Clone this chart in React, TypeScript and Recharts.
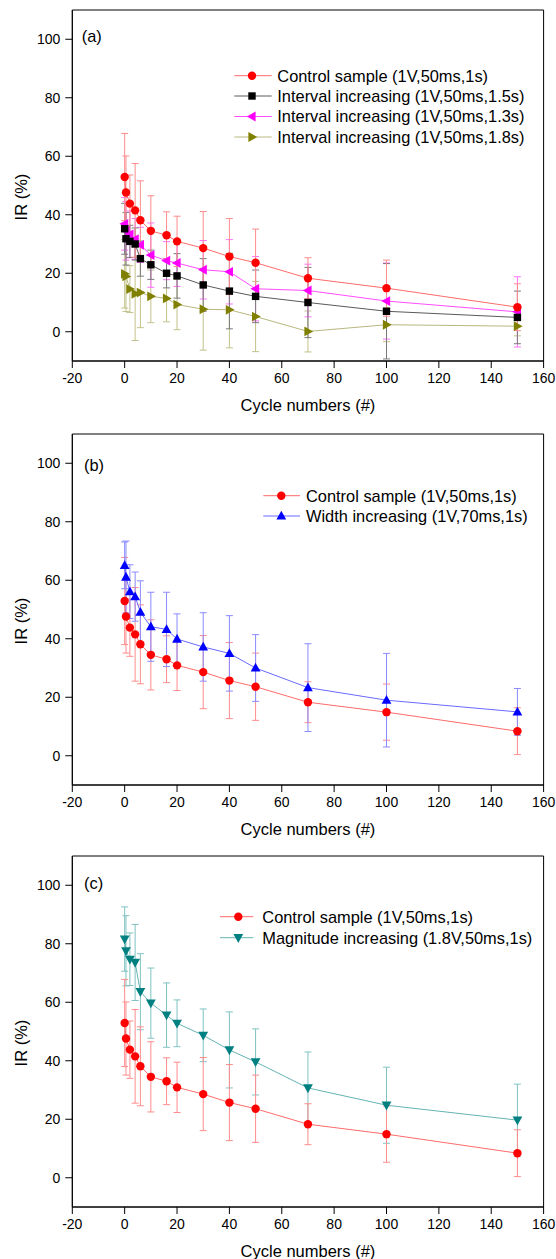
import React from 'react';
import { LineChart, Line, XAxis, YAxis, ErrorBar, ReferenceArea } from 'recharts';

// ---------- data ----------
const cycles = [0, 0.5, 2, 4, 6, 10, 16, 20, 30, 40, 50, 70, 100, 150];

const controlIR = [52.9, 47.6, 43.8, 41.5, 38.1, 34.5, 33.0, 30.9, 28.6, 25.7, 23.6, 18.3, 14.9, 8.4];
const controlErr = [14.9, 12.5, 9.8, 16.0, 13.5, 12.0, 8.0, 8.6, 12.5, 13.0, 11.5, 7.0, 9.6, 8.0];

const interval15IR = [35.2, 31.8, 30.9, 30.0, 25.0, 22.9, 20.0, 19.1, 16.0, 13.9, 12.1, 10.0, 7.0, 4.9];
const interval15Err = [8.7, 9.0, 5.5, 5.5, 6.0, 5.0, 5.0, 7.6, 9.0, 12.9, 9.0, 12.0, 16.3, 9.0];

const interval13IR = [36.9, 34.5, 33.3, 31.7, 29.7, 26.2, 24.3, 23.5, 21.2, 20.5, 14.7, 14.1, 10.5, 6.8];
const interval13Err = [9.0, 10.0, 8.0, 7.0, 6.0, 11.0, 6.5, 8.0, 10.0, 11.0, 11.0, 9.0, 13.0, 12.0];

const interval18IR = [19.8, 18.9, 14.6, 13.0, 13.4, 12.1, 11.4, 9.3, 7.7, 7.5, 5.2, 0.1, 2.4, 1.9];
const interval18Err = [11.7, 12.0, 8.0, 16.0, 12.0, 9.0, 8.0, 8.6, 14.0, 13.0, 12.0, 7.0, 5.8, 3.3];

const widthIR = [65.1, 61.1, 56.1, 54.4, 49.1, 44.1, 43.2, 39.9, 37.2, 35.0, 30.0, 23.3, 19.0, 15.0];
const widthErr = [8.0, 12.3, 9.2, 8.4, 10.7, 11.8, 12.7, 8.6, 11.7, 12.9, 11.4, 15.0, 16.0, 8.0];

const magnitudeIR = [81.6, 77.6, 74.7, 73.6, 63.6, 59.7, 55.6, 52.8, 48.7, 43.7, 39.6, 30.7, 24.8, 19.7];
const magnitudeErr = [11.0, 12.0, 9.0, 13.0, 13.0, 12.0, 11.0, 8.0, 9.0, 13.0, 11.3, 12.3, 13.0, 12.3];

const xTicks = [-20, 0, 20, 40, 60, 80, 100, 120, 140, 160];
const yTicks = [0, 20, 40, 60, 80, 100];

const xTitle = 'Cycle numbers (#)';
const yTitle = 'IR (%)';

// ---------- styles ----------
const FONT = '"Liberation Sans", Arial, Helvetica, sans-serif';

type Shape = 'circle' | 'square' | 'left' | 'right' | 'up' | 'down';

interface SeriesDef {
  key: string;
  name: string;
  values: number[];
  errs: number[];
  fill: string;
  line: string;
  err: string;
  shape: Shape;
}

const S_CONTROL: SeriesDef = { key: 'control', name: 'Control sample (1V,50ms,1s)', values: controlIR, errs: controlErr, fill: '#ff0000', line: '#ff6b6b', err: '#ff8c8c', shape: 'circle' };
const S_I15: SeriesDef = { key: 'i15', name: 'Interval increasing (1V,50ms,1.5s)', values: interval15IR, errs: interval15Err, fill: '#000000', line: '#5a5a5a', err: '#7a7a7a', shape: 'square' };
const S_I13: SeriesDef = { key: 'i13', name: 'Interval increasing (1V,50ms,1.3s)', values: interval13IR, errs: interval13Err, fill: '#ff00ff', line: '#ff4dff', err: '#ff70ff', shape: 'left' };
const S_I18: SeriesDef = { key: 'i18', name: 'Interval increasing (1V,50ms,1.8s)', values: interval18IR, errs: interval18Err, fill: '#808000', line: '#b8b880', err: '#c2c28a', shape: 'right' };
const S_WIDTH: SeriesDef = { key: 'width', name: 'Width increasing (1V,70ms,1s)', values: widthIR, errs: widthErr, fill: '#0000ff', line: '#6a6aff', err: '#8a8aff', shape: 'up' };
const S_MAG: SeriesDef = { key: 'mag', name: 'Magnitude increasing (1.8V,50ms,1s)', values: magnitudeIR, errs: magnitudeErr, fill: '#008080', line: '#66b3b3', err: '#80c2c2', shape: 'down' };

function Marker({ shape, cx, cy, fill }: { shape: Shape; cx: number; cy: number; fill: string }) {
  switch (shape) {
    case 'circle':
      return <circle cx={cx} cy={cy} r={4.2} fill={fill} />;
    case 'square':
      return <rect x={cx - 3.7} y={cy - 3.7} width={7.4} height={7.4} fill={fill} />;
    case 'up':
      return <polygon points={`${cx},${cy - 5.2} ${cx - 4.9},${cy + 3.6} ${cx + 4.9},${cy + 3.6}`} fill={fill} />;
    case 'down':
      return <polygon points={`${cx},${cy + 5.2} ${cx - 4.9},${cy - 3.6} ${cx + 4.9},${cy - 3.6}`} fill={fill} />;
    case 'left':
      return <polygon points={`${cx - 5.2},${cy} ${cx + 3.6},${cy - 4.9} ${cx + 3.6},${cy + 4.9}`} fill={fill} />;
    case 'right':
      return <polygon points={`${cx + 5.2},${cy} ${cx - 3.6},${cy - 4.9} ${cx - 3.6},${cy + 4.9}`} fill={fill} />;
  }
  return null;
}

const makeDot = (s: SeriesDef) => (props: any) => {
  const { cx, cy, index } = props;
  if (cx == null || cy == null) return <g key={`${s.key}-${index}`} />;
  return (
    <g key={`${s.key}-${index}`}>
      <Marker shape={s.shape} cx={cx} cy={cy} fill={s.fill} />
    </g>
  );
};

interface LegendDef {
  x0: number;
  x1: number;
  mx: number;
  tx: number;
  rows: number[];
}

interface PanelDef {
  top: number;
  height: number;
  label: string;
  labelX: number;
  labelY: number;
  drawOrder: SeriesDef[];
  legendOrder: SeriesDef[];
  legend: LegendDef;
}

const BOX_TOP = 10;
const BOX_H = 351;
const PLOT_LEFT = 72.3;
const PLOT_RIGHT = 543.6;

function Panel({ p }: { p: PanelDef }) {
  const data = cycles.map((x, i) => {
    const row: any = { x };
    p.drawOrder.forEach((s) => {
      row[s.key] = s.values[i];
      row[s.key + 'Err'] = s.errs[i];
    });
    return row;
  });
  const xAxisH = p.height - BOX_TOP - BOX_H;
  const tickStyle = { fill: '#000', fontSize: 14, fontFamily: FONT };
  const midX = (PLOT_LEFT + PLOT_RIGHT) / 2;
  return (
    <div style={{ position: 'absolute', left: 0, top: p.top, width: 556, height: p.height }}>
      <LineChart
        width={556}
        height={p.height}
        data={data}
        margin={{ top: BOX_TOP, right: 556 - PLOT_RIGHT, left: 0, bottom: 0 }}
      >
        <XAxis
          dataKey="x"
          type="number"
          domain={[-20, 160]}
          ticks={xTicks}
          interval={0}
          allowDataOverflow
          height={xAxisH}
          tickSize={7}
          tickMargin={5}
          stroke="#000"
          tickLine={{ stroke: '#000' }}
          axisLine={{ stroke: '#000' }}
          tick={tickStyle}
        />
        <YAxis
          type="number"
          domain={[-10, 110]}
          ticks={yTicks}
          interval={0}
          allowDataOverflow
          width={PLOT_LEFT}
          tickSize={7}
          tickMargin={5}
          stroke="#000"
          tickLine={{ stroke: '#000' }}
          axisLine={{ stroke: '#000' }}
          tick={tickStyle}
        />
        <ReferenceArea x1={-20} x2={160} y1={-10} y2={110} fill="none" stroke="#000" strokeWidth={1} ifOverflow="visible" />
        {p.drawOrder.map((s) => (
          <Line
            key={s.key}
            type="linear"
            dataKey={s.key}
            stroke={s.line}
            strokeWidth={1}
            dot={makeDot(s)}
            activeDot={false}
            isAnimationActive={false}
          >
            <ErrorBar dataKey={s.key + 'Err'} direction="y" width={3.5} stroke={s.err} strokeWidth={1} isAnimationActive={false} />
          </Line>
        ))}
      </LineChart>
      <svg
        width={556}
        height={p.height}
        style={{ position: 'absolute', left: 0, top: 0, pointerEvents: 'none' }}
        fontFamily={FONT}
      >
        <text x={p.labelX} y={p.labelY + 5.9} fontSize={16.4} fill="#000">
          {p.label}
        </text>
        {p.legendOrder.map((s, i) => {
          const y = p.legend.rows[i];
          return (
            <g key={s.key}>
              <line x1={p.legend.x0} y1={y} x2={p.legend.x1} y2={y} stroke={s.line} strokeWidth={1} />
              <Marker shape={s.shape} cx={p.legend.mx} cy={y} fill={s.fill} />
              <text x={p.legend.tx} y={y + 5.9} fontSize={16.4} fill="#000">
                {s.name}
              </text>
            </g>
          );
        })}
        <text x={midX} y={405 + 5.9} fontSize={16.5} fill="#000" textAnchor="middle">
          {xTitle}
        </text>
        <text
          x={0}
          y={0}
          fontSize={16.5}
          fill="#000"
          textAnchor="middle"
          transform={`translate(${21.3 + 5.9},197) rotate(-90)`}
        >
          {yTitle}
        </text>
      </svg>
    </div>
  );
}

const panels: PanelDef[] = [
  {
    top: 0,
    height: 424,
    label: '(a)',
    labelX: 81.7,
    labelY: 35.7,
    drawOrder: [S_I18, S_I13, S_I15, S_CONTROL],
    legendOrder: [S_CONTROL, S_I15, S_I13, S_I18],
    legend: { x0: 234.3, x1: 271.7, mx: 252, tx: 277.3, rows: [75.7, 96, 116.5, 137] },
  },
  {
    top: 424,
    height: 422,
    label: '(b)',
    labelX: 84,
    labelY: 41,
    drawOrder: [S_CONTROL, S_WIDTH],
    legendOrder: [S_CONTROL, S_WIDTH],
    legend: { x0: 263.3, x1: 300, mx: 281.3, tx: 306, rows: [71.7, 92] },
  },
  {
    top: 846,
    height: 413,
    label: '(c)',
    labelX: 84,
    labelY: 37.3,
    drawOrder: [S_MAG, S_CONTROL],
    legendOrder: [S_CONTROL, S_MAG],
    legend: { x0: 220, x1: 253.3, mx: 238.3, tx: 262.3, rows: [70.7, 91.7] },
  },
];

export default function App() {
  return (
    <div style={{ position: 'absolute', left: 0, top: 0, width: 556, height: 1259, background: '#fff', overflow: 'hidden' }}>
      {panels.map((p) => (
        <Panel key={p.label} p={p} />
      ))}
    </div>
  );
}
